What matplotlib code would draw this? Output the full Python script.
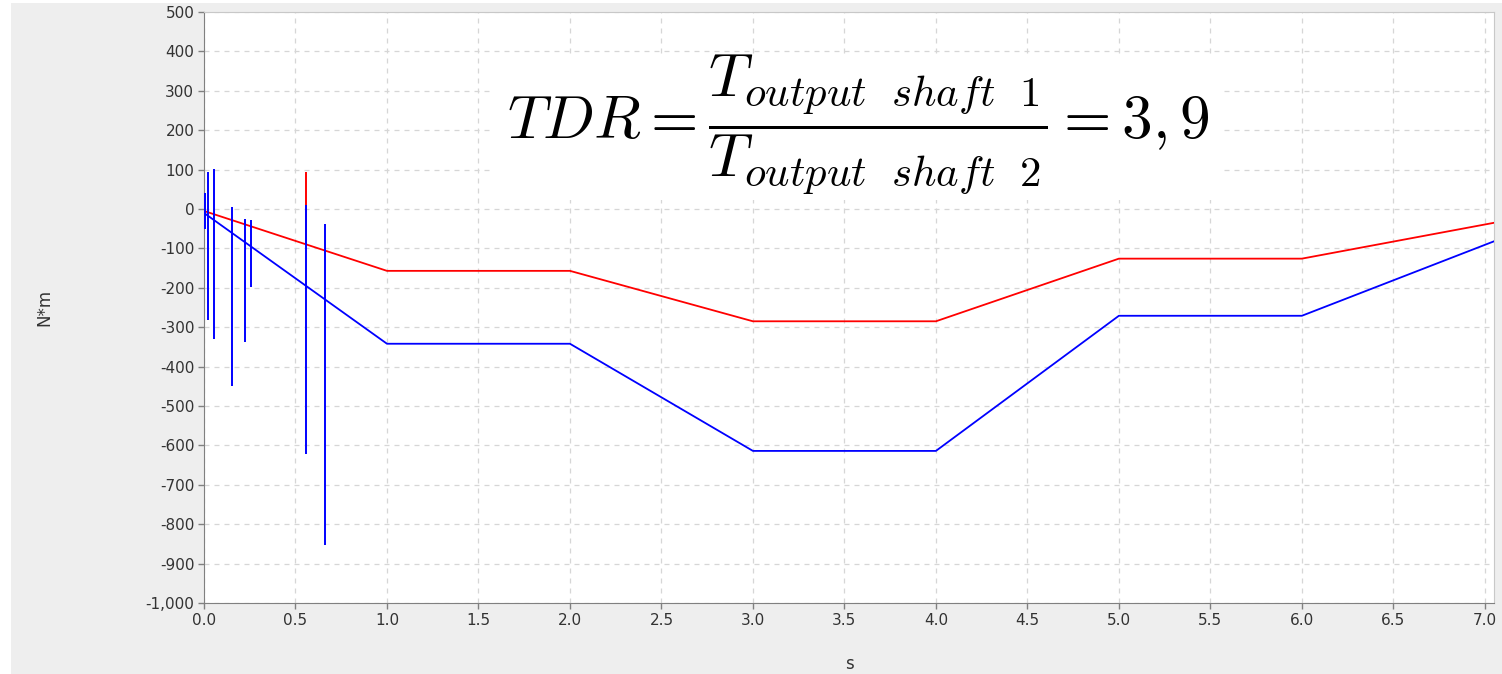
import matplotlib
matplotlib.use("Agg")
import matplotlib.pyplot as plt
from matplotlib.patches import Rectangle
from matplotlib.ticker import FuncFormatter, MultipleLocator

# --- data ---
t_knots = [0.0, 1.0, 2.0, 3.0, 4.0, 5.0, 6.0, 7.05]
torque_red = [-5, -157, -157, -285, -285, -126, -126, -35]
torque_blue = [-10, -342, -342, -614, -614, -271, -271, -82]

# short transient spikes (time, low, high)
blue_spike_t = [0.005, 0.022, 0.055, 0.155, 0.226, 0.257, 0.56, 0.662]
blue_spike_lo = [-50, -282, -330, -450, -338, -198, -621, -853]
blue_spike_hi = [40, 94, 102, 5, -25, -28, 10, -37]
red_spike_t = [0.56]
red_spike_lo = [-90]
red_spike_hi = [94]

formula = (r"$TDR = \dfrac{T_{output\ \ shaft\ \ 1}}"
           r"{T_{output\ \ shaft\ \ 2}} = 3,9$")

W, H = 1502, 674

plt.rcParams["mathtext.fontset"] = "cm"
plt.rcParams["font.family"] = "DejaVu Sans"


def px(x, y):
    """Пиксели картинки (от левого верхнего угла) -> доли фигуры."""
    return x / W, 1 - y / H


fig = plt.figure(figsize=(W / 100, H / 100), dpi=100, facecolor="white")
fig.patches.append(Rectangle((11 / W, 0), 1, 671 / H,
                             transform=fig.transFigure,
                             facecolor="#eeeeee", edgecolor="none", zorder=-10))

ax = fig.add_axes([204 / W, 1 - 603 / H, (1494 - 204) / W, (603 - 12) / H])
ax.set_facecolor("white")

ax.plot(t_knots, torque_red, color="#ff0000", lw=1.3, zorder=3)
ax.plot(t_knots, torque_blue, color="#0000ff", lw=1.3, zorder=3)
ax.vlines(red_spike_t, red_spike_lo, red_spike_hi, color="#ff0000", lw=1.4, zorder=3)
ax.vlines(blue_spike_t, blue_spike_lo, blue_spike_hi, color="#0000ff", lw=1.4, zorder=4)

ax.set_xlim(0, 7.05)
ax.set_ylim(-1000, 500)
ax.xaxis.set_major_locator(MultipleLocator(0.5))
ax.yaxis.set_major_locator(MultipleLocator(100))
ax.xaxis.set_major_formatter(FuncFormatter(lambda v, p: f"{v:.1f}"))
ax.yaxis.set_major_formatter(FuncFormatter(lambda v, p: f"{v:,.0f}"))

ax.grid(True, color="#d6d6d6", linestyle=(0, (4, 4)), lw=0.9)
ax.set_axisbelow(True)
for side in ("top", "right"):
    ax.spines[side].set_color("#c8c8c8")
for side in ("left", "bottom"):
    ax.spines[side].set_color("#808080")
ax.tick_params(direction="out", length=4, width=1, color="#808080",
               labelsize=11, labelcolor="#333333", pad=3)

ax.set_xlabel("s", fontsize=12, color="#333333")
ax.set_ylabel("N*m", fontsize=12, color="#333333")
ax.yaxis.set_label_coords(-0.117, 0.5)
ax.xaxis.set_label_coords(0.5, -0.088)

# --- формула на белой подложке, которая прячет сетку ---
x0, y0 = px(490, 200)
x1, y1 = px(1222, 55)
fig.add_artist(Rectangle((x0, y0), x1 - x0, y1 - y0, transform=fig.transFigure,
                         facecolor="white", edgecolor="none", zorder=2))
fig.text(*px(858, 124), formula, fontsize=44, ha="center", va="center",
         color="black", zorder=3)

fig.savefig("out.png", dpi=100, facecolor=fig.get_facecolor())
